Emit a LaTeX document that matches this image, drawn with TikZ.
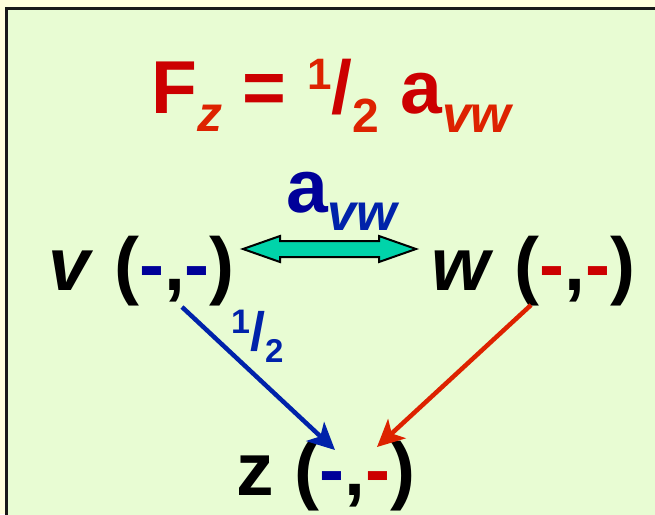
\documentclass[tikz,border=0pt]{standalone}
\usepackage{fontspec}
\setmainfont{Liberation Sans}
\usepackage{xcolor}
\usetikzlibrary{arrows.meta, positioning, calc}

\definecolor{pageyellow}{HTML}{FFFFDD}
\definecolor{panelgreen}{HTML}{E8FCD3}
\definecolor{darkred}{HTML}{CC0000}
\definecolor{brightred}{HTML}{DD2200}
\definecolor{darkblue}{HTML}{000099}
\definecolor{brightblue}{HTML}{0022AA}
\definecolor{linkteal}{HTML}{00D4AA}

\newcommand{\bdash}{\textcolor{darkblue}{-}}
\newcommand{\rdash}{\textcolor{darkred}{-}}
\newcommand{\sizeto}[1]{\fontsize{#1}{#1}\selectfont}

\begin{document}
\begin{tikzpicture}[x=1pt, y=-1pt,
    % ── Vertex labels: large bold text ───────────────────────────────
    vertex/.style={inner sep=0pt, anchor=base west,
        font=\sizeto{75}\bfseries, text=black},
    % ── Formula text ─────────────────────────────────────────────────
    formula/.style={inner sep=0pt, anchor=base west,
        font=\sizeto{75}\bfseries},
    weight/.style={inner sep=0pt, anchor=base west,
        font=\sizeto{54}\bfseries, text=brightblue},
    % ── Arrows: thick, sharp heads ───────────────────────────────────
    flow/.style={line width=4.5pt,
        -{Stealth[length=27pt, width=26pt, inset=7pt]}},
    % ── Double arrow between v and w ─────────────────────────────────
    link/.style={draw=black, line width=2pt, fill=linkteal,
        line join=miter}
]

% ══════════════════════════════════════════════════════════════════════
% PANEL
% ══════════════════════════════════════════════════════════════════════
    \useasboundingbox (0,0) rectangle (655,514);
    \clip (0,0) rectangle (655,514);
    \fill[pageyellow] (0,0) rectangle (655,514);
    \draw[black!90, line width=3.5pt, fill=panelgreen]
        (6.5,8.5) rectangle (690,560);

% ══════════════════════════════════════════════════════════════════════
% NODE PLACEMENT
% ══════════════════════════════════════════════════════════════════════

    % ── Formula ──
    \node[formula] (title) at (151,113) {%
        \textcolor{darkred}{F}\raisebox{-18pt}{\sizeto{50}\itshape\textcolor{brightred}{z}}
        \textcolor{darkred}{=}
        \raisebox{24pt}{\sizeto{44}\textcolor{brightred}{1}}\textcolor{darkred}{/}\raisebox{-19pt}{\sizeto{48}\textcolor{brightred}{2}}
        \textcolor{darkred}{a}\raisebox{-19pt}{\sizeto{52}\itshape\textcolor{brightred}{vw}}};

    % ── Vertices ──
    \node[vertex] (v) at (48,290)  {\textit{v} (\bdash,\bdash)};
    \node[vertex] (w) at (431,290) {\textit{w} (\rdash,\rdash)};
    \node[vertex] (z) at (236,495) {z (\bdash,\rdash)};

% ══════════════════════════════════════════════════════════════════════
% CONNECTIONS
% ══════════════════════════════════════════════════════════════════════

    \coordinate (lt) at ($(v.base west)+(195,-41)$);
    \coordinate (rt) at ($(w.base west)+(-15,-41)$);
    \draw[link] (lt) -- ++(37,-13) -- ++(0,5)
        -- ($(rt)+(-37,-8)$) -- ++(0,-5) -- (rt)
        -- ++(-37,13) -- ++(0,-5)
        -- ($(lt)+(37,8)$) -- ++(0,5) -- cycle;
    \node[formula, text=darkblue] (avw) at (286,212)
        {a\raisebox{-18pt}{\sizeto{52}\itshape\textcolor{brightblue}{vw}}};

    \draw[flow, brightblue] ($(v.base west)+(134,17)$)
        -- ($(z.base west)+(99,-45)$);
    \node[weight] (half) at (231,350)
        {\raisebox{17pt}{\sizeto{34}1}/\raisebox{-12pt}{\sizeto{33}2}};

    \draw[flow, brightred] ($(w.base west)+(100,15)$)
        -- ($(z.base west)+(141,-48)$);

\end{tikzpicture}
\end{document}
